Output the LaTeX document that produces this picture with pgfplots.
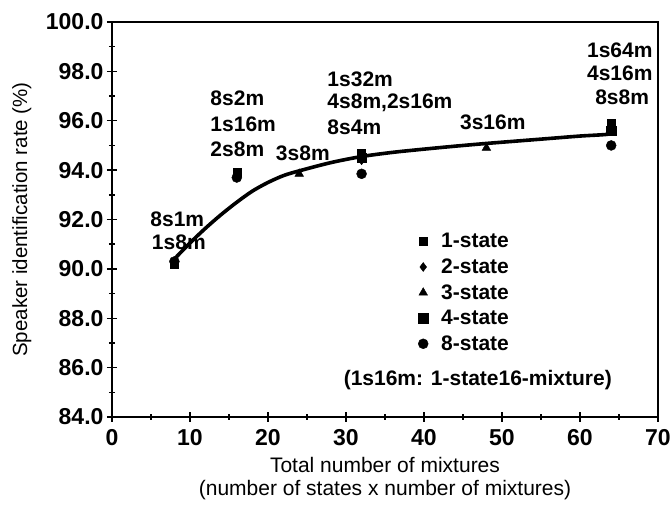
\documentclass[border=0pt]{standalone}
\usepackage{fontspec}
\setmainfont{Liberation Sans}
\usepackage{pgfplots}
\pgfplotsset{compat=1.18}

\begin{document}
\begin{tikzpicture}
% page frame: axis box is 546 x 395, placed like in the reference
\path[use as bounding box] (-112pt,-96pt) rectangle (560pt,417pt);
\begin{axis}[
    at={(0,0)}, anchor=south west,
    scale only axis,
    width=546pt, height=395pt,
    xmin=0, xmax=70, ymin=84, ymax=100,
    xtick={0,10,...,70}, minor x tick num=1,
    ytick={84,86,...,100}, minor y tick num=1,
    tick align=center,
    major tick length=10pt, minor tick length=6pt,
    tick style={black, line width=1.4pt},
    axis line style={line width=2pt},
    xtick pos=bottom, ytick pos=left,
    /pgf/number format/assume math mode=true,
    yticklabel style={/pgf/number format/.cd, fixed, fixed zerofill, precision=1},
    ticklabel style={font=\fontsize{23}{25}\selectfont\bfseries},
    xticklabel style={yshift=-4pt},
    xlabel={Total number of mixtures\\(number of states x number of mixtures)},
    xlabel style={font=\fontsize{21}{23}\selectfont, align=center,
        at={(rel axis cs:0.5,-0.092)}, anchor=north},
    ylabel={Speaker identification rate (\%)},
    ylabel style={font=\fontsize{20.5}{23}\selectfont,
        at={(rel axis cs:-0.141,0.5)}, anchor=south},
    legend style={draw=none, fill=none, at={(rel axis cs:0.555,0.474)}, anchor=north west,
        font=\fontsize{21}{23}\selectfont\bfseries, row sep=6.5pt,
        nodes={inner xsep=3pt, inner ysep=1.5pt},
        /tikz/every odd column/.append style={column sep=10pt}},
    legend cell align=left,
    clip=false,
]
% fitted curve
\addplot[black, line width=3.6pt, smooth, forget plot] coordinates {
    (8,90.4) (10,91.05) (12,91.65) (14,92.2) (16,92.7) (18,93.15) (20,93.5)
    (22,93.78) (24,93.97) (28,94.3) (32,94.55) (36,94.72) (40,94.85)
    (44,94.97) (48,95.08) (52,95.18) (56,95.28) (60,95.38) (63.5,95.45) (64,95.55)
};
\addplot[only marks, mark=square*, mark size=4pt, black] coordinates {
    (8,90.2) (16,93.9) (32,94.7) (64,95.9)
};
\addlegendentry{1-state}
\addplot[only marks, mark=diamond*, mark size=4.5pt, black] coordinates {
    (16,93.8) (32,94.4)
};
\addlegendentry{2-state}
\addplot[only marks, mark=triangle*, mark size=5pt, black] coordinates {
    (24,93.85) (48,94.9)
};
\addlegendentry{3-state}
\addplot[only marks, mark=square*, mark size=4.8pt, black] coordinates {
    (32,94.5) (64,95.6)
};
\addlegendentry{4-state}
\addplot[only marks, mark=*, mark size=5pt, black] coordinates {
    (8,90.3) (16,93.7) (32,93.85) (64,95.0)
};
\addlegendentry{8-state}

\begin{scope}[every node/.style={font=\fontsize{21}{23}\selectfont\bfseries, inner sep=0pt}]
\node[anchor=west] at (axis cs:4.9,92.02) {8s1m};
\node[anchor=west] at (axis cs:5.1,91.09) {1s8m};
\node[anchor=west] at (axis cs:12.6,96.92) {8s2m};
\node[anchor=west] at (axis cs:12.6,95.87) {1s16m};
\node[anchor=west] at (axis cs:12.6,94.86) {2s8m};
\node[anchor=west] at (axis cs:21.0,94.7) {3s8m};
\node[anchor=west] at (axis cs:27.6,97.69) {1s32m};
\node[anchor=west] at (axis cs:27.6,96.72) {4s8m,2s16m};
\node[anchor=west] at (axis cs:27.6,95.75) {8s4m};
\node[anchor=west] at (axis cs:44.6,95.95) {3s16m};
\node at (axis cs:65.1,98.87) {1s64m};
\node at (axis cs:65.1,97.93) {4s16m};
\node at (axis cs:65.4,96.96) {8s8m};
\node at (axis cs:46.9,85.5) {(1s16m: 1-state16-mixture)};
\end{scope}
\end{axis}
\end{tikzpicture}
\end{document}
